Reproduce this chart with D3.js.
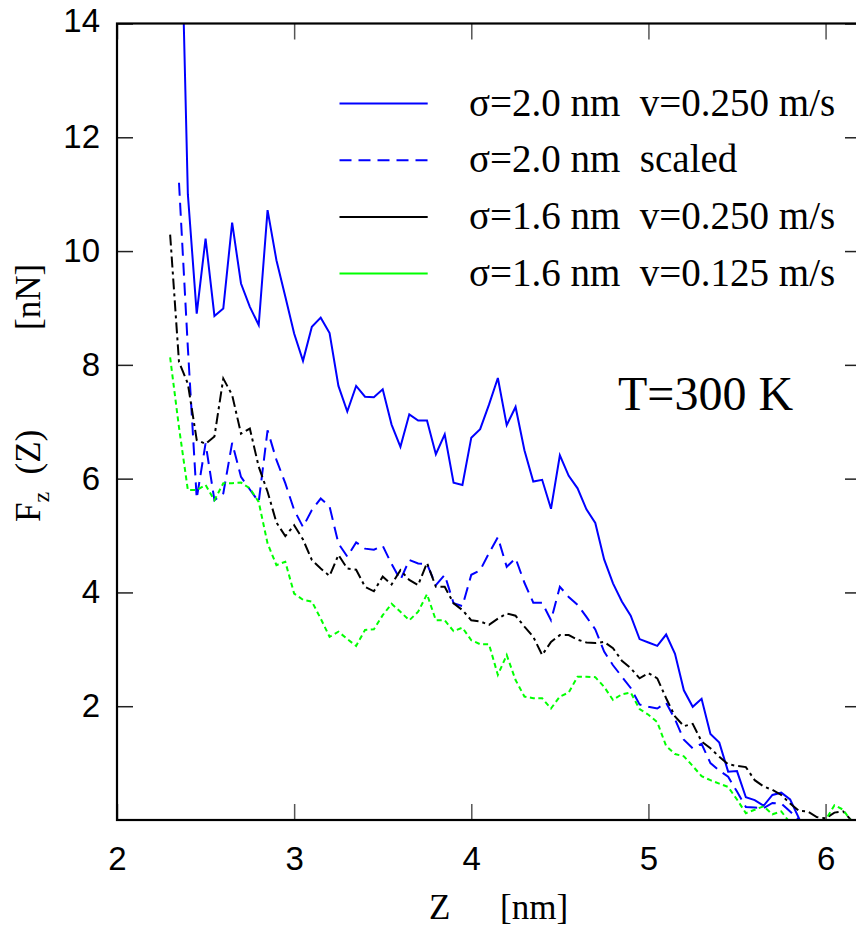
<!DOCTYPE html>
<html>
<head>
<meta charset="utf-8">
<script src="https://cdn.jsdelivr.net/npm/d3@7"></script>
<style>
  html, body { margin: 0; padding: 0; background: #fff; }
  svg { display: block; }
  .tick text { font-family: "Liberation Sans", Arial, sans-serif; font-size: 33px; fill: #000; }
  .serif { font-family: "Liberation Serif", "Times New Roman", serif; fill: #000; white-space: pre; }
</style>
</head>
<body>
<script>
// ---------- DATA ----------
const zValues = [2.30,2.35,2.40,2.45,2.50,2.55,2.60,2.65,2.70,2.75,2.80,2.85,2.90,2.95,
  3.00,3.05,3.10,3.15,3.20,3.25,3.30,3.35,3.40,3.45,3.50,3.55,3.60,3.65,3.70,3.75,3.80,3.85,3.90,3.95,
  4.00,4.05,4.10,4.15,4.20,4.25,4.30,4.35,4.40,4.45,4.50,4.55,4.60,4.65,4.70,4.75,4.80,4.85,4.90,4.95,
  5.00,5.05,5.10,5.15,5.20,5.25,5.30,5.35,5.40,5.45,5.50,5.55,5.60,5.65,5.70,5.75,5.80,5.85,5.90,5.95,
  6.00,6.05,6.10,6.15];

// sigma = 2.0 nm, v = 0.250 m/s
const sig20v250 = [null,17.5,11.0,8.9,10.22,8.86,8.99,10.5,9.43,9.02,8.70,10.72,9.84,9.2,
  8.55,8.07,8.67,8.83,8.56,7.63,7.18,7.63,7.44,7.43,7.57,6.95,6.56,7.13,7.02,7.02,6.43,6.78,5.93,5.89,
  6.72,6.87,7.3,7.77,6.94,7.26,6.50,5.95,5.98,5.47,6.41,6.05,5.83,5.46,5.22,4.58,4.16,3.84,3.59,3.18,
  3.12,3.06,3.26,2.92,2.28,1.99,2.13,1.51,1.36,0.85,0.86,0.40,0.35,0.25,0.44,0.48,0.36,0.03,-0.4,null,
  null,null,null,null];

// sigma = 2.0 nm, scaled
const sig20scaled = [null,11.2,8.3,5.65,6.62,5.62,5.74,6.63,6.03,5.81,5.59,6.85,6.33,5.92,
  5.45,5.15,5.45,5.65,5.51,4.86,4.63,4.88,4.77,4.75,4.82,4.50,4.22,4.57,4.51,4.50,4.13,4.31,3.81,3.76,
  4.31,4.39,4.69,4.97,4.45,4.60,4.17,3.82,3.82,3.51,4.10,3.92,3.78,3.57,3.35,2.96,2.72,2.52,2.32,2.03,
  1.99,1.96,2.06,1.77,1.41,1.26,1.34,1.00,0.87,0.76,0.50,0.23,0.22,0.21,0.30,0.29,0.15,0.0,-0.3,null,
  null,null,null,null];

// sigma = 1.6 nm, v = 0.250 m/s
const sig16v250 = [10.29,8.05,7.67,6.68,6.61,6.74,7.76,7.47,6.79,6.88,6.21,5.77,5.23,4.99,
  5.18,4.93,4.57,4.42,4.29,4.66,4.42,4.40,4.10,4.02,4.28,4.14,4.39,4.22,4.13,4.52,4.10,4.10,3.81,3.69,
  3.51,3.49,3.43,3.54,3.63,3.59,3.40,3.22,2.90,3.13,3.25,3.25,3.17,3.12,3.11,3.13,3.02,2.80,2.67,2.49,
  2.58,2.49,2.14,1.82,1.65,1.69,1.38,1.26,1.11,0.98,0.95,0.93,0.70,0.59,0.53,0.44,0.29,0.16,0.15,0.05,
  0.03,0.13,0.15,-0.02];

// sigma = 1.6 nm, v = 0.125 m/s
const sig16v125 = [8.13,6.9,5.8,5.8,5.89,5.62,5.92,5.92,5.93,5.83,5.59,4.86,4.48,4.54,
  3.98,3.87,3.84,3.54,3.22,3.31,3.18,3.06,3.34,3.35,3.60,3.80,3.66,3.51,3.66,3.97,3.51,3.51,3.32,3.38,
  3.16,3.09,3.09,2.55,2.90,2.46,2.17,2.14,2.14,1.96,2.17,2.24,2.52,2.52,2.51,2.34,2.11,2.21,2.24,1.95,
  1.85,1.72,1.30,1.16,1.12,0.95,0.77,0.70,0.64,0.58,0.36,0.12,0.18,0.24,0.10,0.15,-0.05,-0.25,-0.3,-0.2,
  0.0,0.26,0.18,-0.05];

const seriesNames = ["σ=2.0 nm  v=0.250 m/s", "σ=2.0 nm  scaled", "σ=1.6 nm  v=0.250 m/s", "σ=1.6 nm  v=0.125 m/s"];
const xTickValues = [2, 3, 4, 5, 6];
const yTickValues = [2, 4, 6, 8, 10, 12, 14];
const xTickLabels = ["2", "3", "4", "5", "6"];
const yTickLabels = ["2", "4", "6", "8", "10", "12", "14"];
const annotation = "T=300 K";

// ---------- STYLE ----------
const W = 856, H = 932;
const plot = { left: 117, top: 23.5, right: 861, bottom: 820 };
const styles = [
  { color: "#0000ff", dash: null,         legendDash: null },
  { color: "#0000ff", dash: "13,7",       legendDash: "12,7" },
  { color: "#000000", dash: "11,4,3,4",   legendDash: null },
  { color: "#00ff00", dash: "5,3.5",      legendDash: null }
];

const svg = d3.select("body").append("svg").attr("width", W).attr("height", H);

const x = d3.scaleLinear().domain([2, 6.2]).range([plot.left, plot.right]);
const y = d3.scaleLinear().domain([0, 14]).range([plot.bottom, plot.top]);

svg.append("defs").append("clipPath").attr("id", "clip")
  .append("rect").attr("x", plot.left).attr("y", plot.top)
  .attr("width", plot.right - plot.left).attr("height", plot.bottom - plot.top);

// axes
const gx = svg.append("g").attr("transform", `translate(0,${plot.bottom})`)
  .call(d3.axisBottom(x).tickValues(xTickValues).tickSize(-16)
    .tickFormat((d, i) => xTickLabels[i]));
gx.select(".domain").remove();
gx.selectAll(".tick line").attr("stroke", "#555").attr("stroke-width", 1.5);
gx.selectAll(".tick text").attr("dy", null).attr("y", 50);

const gxTop = svg.append("g").attr("transform", `translate(0,${plot.top})`)
  .call(d3.axisTop(x).tickValues(xTickValues).tickSize(-16).tickFormat(""));
gxTop.select(".domain").remove();
gxTop.selectAll(".tick line").attr("stroke", "#555").attr("stroke-width", 1.5);

const gy = svg.append("g").attr("transform", `translate(${plot.left},0)`)
  .call(d3.axisLeft(y).tickValues(yTickValues).tickSize(-16).tickPadding(17)
    .tickFormat((d, i) => yTickLabels[i]));
gy.select(".domain").remove();
gy.selectAll(".tick line").attr("stroke", "#222").attr("stroke-width", 1.5);
// the top label sits slightly raised against the frame corner
gy.selectAll(".tick text").filter(d => d === 14).attr("y", -3);

const gyR = svg.append("g").attr("transform", `translate(${plot.right},0)`)
  .call(d3.axisRight(y).tickValues(yTickValues).tickSize(-16).tickFormat(""));
gyR.select(".domain").remove();
gyR.selectAll(".tick line").attr("stroke", "#222").attr("stroke-width", 1.5);

// series
const allSeries = [sig20v250, sig20scaled, sig16v250, sig16v125];
const line = d3.line()
  .defined(d => d[1] !== null)
  .x(d => x(d[0])).y(d => y(d[1]));

const gLines = svg.append("g").attr("clip-path", "url(#clip)");
allSeries.forEach((vals, k) => {
  const pts = zValues.map((z, i) => [z, vals[i]]);
  gLines.append("path").datum(pts)
    .attr("d", line)
    .attr("fill", "none")
    .attr("stroke", styles[k].color)
    .attr("stroke-width", 2)
    .attr("stroke-linejoin", "miter")
    .attr("stroke-dasharray", styles[k].dash);
});

// frame
svg.append("rect")
  .attr("x", plot.left).attr("y", plot.top)
  .attr("width", plot.right - plot.left).attr("height", plot.bottom - plot.top)
  .attr("fill", "none").attr("stroke", "#000").attr("stroke-width", 2.2);

// legend
const legend = svg.append("g");
seriesNames.forEach((name, k) => {
  const ly = 103.5 + k * 56.7;
  legend.append("line")
    .attr("x1", 339.5).attr("x2", 427.7).attr("y1", ly).attr("y2", ly)
    .attr("stroke", styles[k].color).attr("stroke-width", 2)
    .attr("stroke-dasharray", styles[k].legendDash);
  legend.append("text").attr("class", "serif")
    .attr("x", 469).attr("y", ly + 12)
    .attr("font-size", 39)
    .text(name);
});

// annotation
svg.append("text").attr("class", "serif")
  .attr("x", 618).attr("y", 410).attr("font-size", 48).text(annotation);

// axis titles
const xt = svg.append("text").attr("class", "serif").attr("font-size", 35).attr("y", 919);
xt.append("tspan").attr("x", 429).text("Z");
xt.append("tspan").attr("x", 500).text("[nm]");

const yt = svg.append("text").attr("class", "serif").attr("font-size", 35)
  .attr("transform", "translate(40,0) rotate(-90)");
yt.append("tspan").attr("x", -522).attr("y", 0).text("F");
yt.append("tspan").attr("font-size", 24).attr("dy", 9).text("z");
yt.append("tspan").attr("dy", -9).text("  (Z)");
yt.append("tspan").attr("x", -330).attr("y", 0).text("[nN]");
</script>
</body>
</html>
